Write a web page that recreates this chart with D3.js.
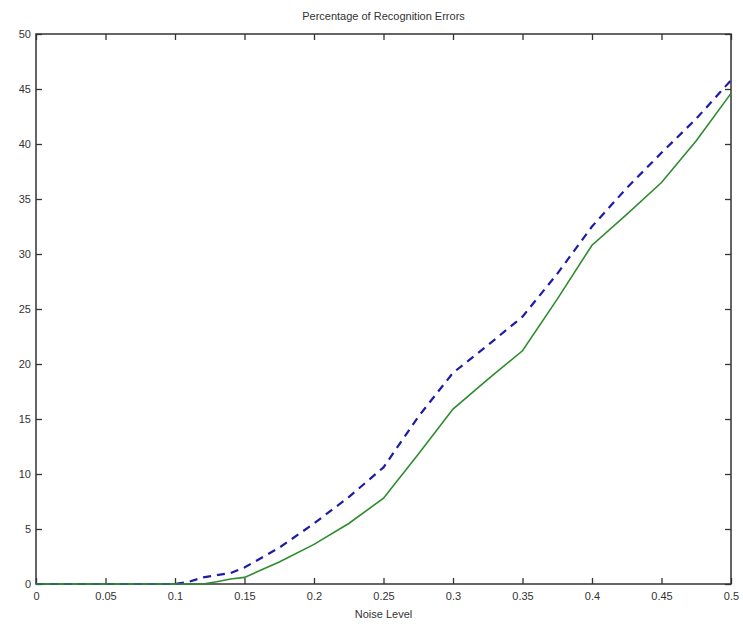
<!DOCTYPE html>
<html lang="en">
<head>
    <meta charset="UTF-8">
    <title>Percentage of Recognition Errors</title>
    <script src="https://d3js.org/d3.v7.min.js"></script>
    <style>
        body { margin: 0; background: #fff; }
        text { font-family: "Liberation Sans", Arial, sans-serif; fill: #333; }
        .tick text { font-size: 11px; }
    </style>
</head>
<body>
    <div id="chart-container"></div>
    <script>
        // noise levels and error percentages
        const noise = [0, 0.05, 0.10, 0.11, 0.12, 0.13, 0.14, 0.15, 0.175, 0.2, 0.225, 0.25,
                       0.275, 0.3, 0.325, 0.35, 0.375, 0.4, 0.425, 0.45, 0.475, 0.5];
        const errDashed = [0, 0, 0, 0.2, 0.6, 0.8, 1.0, 1.5, 3.3, 5.5, 7.9, 10.6,
                           15.2, 19.2, 21.7, 24.3, 28.2, 32.5, 36, 39.2, 42.3, 45.8];
        const errSolid = [0, 0, 0, 0, 0, 0.2, 0.45, 0.6, 2.0, 3.6, 5.5, 7.8,
                          11.8, 15.9, 18.6, 21.2, 25.9, 30.8, 33.6, 36.5, 40.3, 44.6];
        const xTicks = [0, 0.05, 0.1, 0.15, 0.2, 0.25, 0.3, 0.35, 0.4, 0.45, 0.5];
        const yTicks = [0, 5, 10, 15, 20, 25, 30, 35, 40, 45, 50];

        const containerWidth = 743;
        const containerHeight = 624;
        const margins = { top: 34, right: 12, bottom: 40, left: 36 };
        const width = containerWidth - margins.left - margins.right;
        const height = containerHeight - margins.top - margins.bottom;

        const svg = d3.select("#chart-container")
            .append("svg")
            .attr("width", containerWidth)
            .attr("height", containerHeight)
            .append("g")
            .attr("transform", `translate(${margins.left},${margins.top})`);

        const x = d3.scaleLinear().domain([0, 0.5]).range([0, width]);
        const y = d3.scaleLinear().domain([0, 50]).range([height, 0]);

        const fmt = d => String(d);
        const tickLen = 6;

        // bottom and left axes with labels, ticks inward
        const xAxis = svg.append("g")
            .attr("transform", `translate(0,${height})`)
            .call(d3.axisBottom(x).tickValues(xTicks).tickFormat(fmt).tickSizeInner(-tickLen).tickSizeOuter(0).tickPadding(8));
        const yAxis = svg.append("g")
            .call(d3.axisLeft(y).tickValues(yTicks).tickFormat(fmt).tickSizeInner(-tickLen).tickSizeOuter(0).tickPadding(5));
        // top and right axes, ticks only
        const xTop = svg.append("g")
            .call(d3.axisTop(x).tickValues(xTicks).tickFormat("").tickSizeInner(-tickLen).tickSizeOuter(0));
        const yRight = svg.append("g")
            .attr("transform", `translate(${width},0)`)
            .call(d3.axisRight(y).tickValues(yTicks).tickFormat("").tickSizeInner(-tickLen).tickSizeOuter(0));

        [xAxis, yAxis, xTop, yRight].forEach(g => {
            g.select(".domain").remove();
            g.selectAll(".tick line").attr("stroke", "#333").attr("stroke-width", 1.3);
        });

        // box
        svg.append("rect")
            .attr("x", 0).attr("y", 0)
            .attr("width", width).attr("height", height)
            .attr("fill", "none")
            .attr("stroke", "#333")
            .attr("stroke-width", 1.5);

        const line = d3.line()
            .x((d, i) => x(noise[i]))
            .y(d => y(d));

        svg.append("path")
            .datum(errDashed)
            .attr("fill", "none")
            .attr("stroke", "#1c1ca8")
            .attr("stroke-width", 2.2)
            .attr("stroke-dasharray", "8,6")
            .attr("d", line);

        svg.append("path")
            .datum(errSolid)
            .attr("fill", "none")
            .attr("stroke", "#2e8b2e")
            .attr("stroke-width", 1.6)
            .attr("d", line);

        // title and axis label
        svg.append("text")
            .attr("x", width / 2)
            .attr("y", -14)
            .attr("text-anchor", "middle")
            .style("font-size", "11px")
            .text("Percentage of Recognition Errors");

        svg.append("text")
            .attr("x", width / 2)
            .attr("y", height + 34)
            .attr("text-anchor", "middle")
            .style("font-size", "11px")
            .text("Noise Level");
    </script>
</body>
</html>
